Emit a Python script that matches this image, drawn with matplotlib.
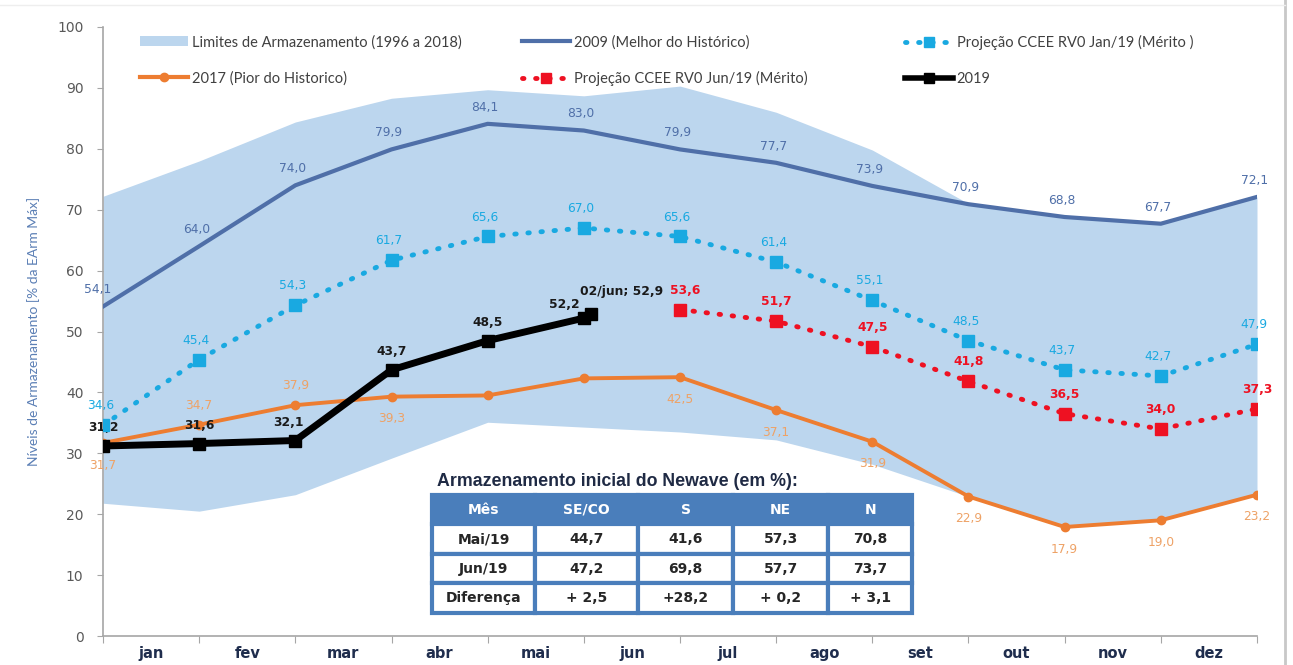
import numpy as np
import matplotlib
matplotlib.use("Agg")
import matplotlib.pyplot as plt
from matplotlib.patches import Patch
from matplotlib.lines import Line2D

# month boundaries (start of jan ... end of dez)
months = ["jan", "fev", "mar", "abr", "mai", "jun", "jul", "ago", "set", "out", "nov", "dez"]
x_full = np.arange(13)

band_upper = [72.2, 78.0, 84.4, 88.3, 89.7, 88.7, 90.3, 86.0, 79.8, 71.0, 68.8, 67.7, 72.1]
band_lower = [21.8, 20.5, 23.2, 29.2, 35.1, 34.3, 33.5, 32.2, 28.2, 22.9, 17.9, 19.0, 23.2]

best_2009 = [54.1, 64.0, 74.0, 79.9, 84.1, 83.0, 79.9, 77.7, 73.9, 70.9, 68.8, 67.7, 72.1]
worst_2017 = [31.7, 34.7, 37.9, 39.3, 39.5, 42.3, 42.5, 37.1, 31.9, 22.9, 17.9, 19.0, 23.2]
worst_2017_labeled = [True, True, True, True, False, False, True, True, True, True, True, True, True]
proj_jan = [34.6, 45.4, 54.3, 61.7, 65.6, 67.0, 65.6, 61.4, 55.1, 48.5, 43.7, 42.7, 47.9]
proj_jun_x = [6, 7, 8, 9, 10, 11, 12]
proj_jun = [53.6, 51.7, 47.5, 41.8, 36.5, 34.0, 37.3]
y2019_x = [0, 1, 2, 3, 4, 5, 5.07]
y2019 = [31.2, 31.6, 32.1, 43.7, 48.5, 52.2, 52.9]

table_cols = ["Mês", "SE/CO", "S", "NE", "N"]
table_rows = [
    ["Mai/19", "44,7", "41,6", "57,3", "70,8"],
    ["Jun/19", "47,2", "69,8", "57,7", "73,7"],
    ["Diferença", "+ 2,5", "+28,2", "+ 0,2", "+ 3,1"],
]

C_BAND = "#bcd6ee"
C_2009 = "#4f6fa8"
C_2017 = "#ed7d31"
C_JAN = "#19a9e1"
C_JUN = "#ee1122"
C_2019 = "#000000"


def fmt(v):
    return f"{v:.1f}".replace(".", ",")


fig = plt.figure(figsize=(12.93, 6.65), dpi=100)
ax = fig.add_axes([103 / 1293, 29 / 665, 1154 / 1293, 609 / 665])

ax.fill_between(x_full, band_lower, band_upper, color=C_BAND, lw=0, zorder=1)
ax.plot(x_full, best_2009, color=C_2009, lw=3, zorder=3)
ax.plot(x_full, worst_2017, color=C_2017, lw=2.8, marker="o", ms=6, zorder=3)
ax.plot(x_full, proj_jan, color=C_JAN, lw=3.5, ls=(0, (0.3, 2.4)), dash_capstyle="round",
        marker="s", ms=8, zorder=4)
ax.plot(proj_jun_x, proj_jun, color=C_JUN, lw=3.5, ls=(0, (0.3, 2.4)), dash_capstyle="round",
        marker="s", ms=8, zorder=4)
ax.plot(y2019_x, y2019, color=C_2019, lw=5, marker="s", ms=8, zorder=5)

lab_font = dict(fontsize=8.8, family="DejaVu Sans", ha="center", va="center")

for i, v in enumerate(best_2009):
    ax.annotate(fmt(v), (x_full[i], v), xytext=(-4 if i == 0 else -2, 12),
                textcoords="offset points", color=C_2009, **lab_font)

for i, v in enumerate(proj_jan):
    ax.annotate(fmt(v), (x_full[i], v), xytext=(-2, 14),
                textcoords="offset points", color=C_JAN, **lab_font)

for i, v in enumerate(proj_jun):
    ax.annotate(fmt(v), (proj_jun_x[i], v), xytext=(4 if i == 0 else 0, 14),
                textcoords="offset points", color=C_JUN, fontweight="bold", **lab_font)

orange_off = {1: (0, 14), 2: (0, 14)}
for i, v in enumerate(worst_2017):
    if not worst_2017_labeled[i]:
        continue
    off = orange_off.get(i, (0, -16))
    ax.annotate(fmt(v), (x_full[i], v), xytext=off,
                textcoords="offset points", color="#eea266", **lab_font)

black_off = {2: (-5, 13), 5: (-14, 10)}
for i, v in enumerate(y2019[:-1]):
    off = black_off.get(i, (0, 13))
    ax.annotate(fmt(v), (y2019_x[i], v), xytext=off,
                textcoords="offset points", color="#1a1a1a", fontweight="bold", **lab_font)
ax.annotate("02/jun; " + fmt(y2019[-1]), (y2019_x[-1], y2019[-1]), xytext=(22, 16),
            textcoords="offset points", color="#1a1a1a", fontweight="bold", **lab_font)

# axes styling
ax.set_xlim(0, 12)
ax.set_ylim(0, 100)
ax.set_yticks(np.arange(0, 101, 10))
ax.set_xticks(x_full)
ax.set_xticklabels([])
ax.set_xticks(np.arange(12) + 0.5, minor=True)
ax.set_xticklabels(months, minor=True, fontsize=10.5, fontweight="bold", color="#1f2d4d",
                   family="DejaVu Sans")
ax.tick_params(axis="x", which="minor", length=0, pad=7)
ax.tick_params(axis="x", which="major", length=5, color="#a6a6a6", direction="out")
ax.tick_params(axis="y", length=4, color="#a6a6a6", labelsize=10, labelcolor="#595959", pad=10)
for lab in ax.get_yticklabels():
    lab.set_family("DejaVu Sans")
for s in ["top", "right"]:
    ax.spines[s].set_visible(False)
for s in ["left", "bottom"]:
    ax.spines[s].set_color("#a6a6a6")
    ax.spines[s].set_linewidth(1.2)
ax.set_ylabel("Níveis de Armazenamento [% da EArm Máx]", fontsize=10, color="#5b7fb5",
              family="Lato", labelpad=12)

# legends, one per column
leg_kw = dict(loc="upper left", frameon=False, borderpad=0, borderaxespad=0,
              handlelength=3.3, handletextpad=0.25, labelspacing=1.5,
              prop={"family": "Lato", "size": 10.5}, labelcolor="#404040")
h_band = Patch(facecolor=C_BAND, edgecolor="none")
h_2009 = Line2D([], [], color=C_2009, lw=3)
h_2017 = Line2D([], [], color=C_2017, lw=3, marker="o", ms=6)
h_jan = Line2D([], [], color=C_JAN, lw=3.5, ls=(0, (0.3, 2.4)), dash_capstyle="round", marker="s", ms=7)
h_jun = Line2D([], [], color=C_JUN, lw=3.5, ls=(0, (0.3, 2.4)), dash_capstyle="round", marker="s", ms=7)
h_2019 = Line2D([], [], color=C_2019, lw=4, marker="s", ms=7)

l1 = ax.legend([h_band, h_2017], ["Limites de Armazenamento (1996 a 2018)", "2017 (Pior do Historico)"],
               bbox_to_anchor=(0.032, 0.987), **leg_kw)
ax.add_artist(l1)
l2 = ax.legend([h_2009, h_jun], ["2009 (Melhor do Histórico)", "Projeção CCEE RV0 Jun/19 (Mérito)"],
               bbox_to_anchor=(0.363, 0.987), **leg_kw)
ax.add_artist(l2)
ax.legend([h_jan, h_2019], ["Projeção CCEE RV0 Jan/19 (Mérito )", "2019"],
          bbox_to_anchor=(0.695, 0.987), **leg_kw)

# table of initial storage
ax.text(0.2894, 0.2545, "Armazenamento inicial do Newave (em %):", transform=ax.transAxes,
        fontsize=12.8, fontweight="bold", color="#1f2a44", family="Liberation Sans",
        ha="left", va="center")
col_w = np.array([103, 103, 95, 95, 84], dtype=float)
tbl = ax.table(cellText=table_rows, colLabels=table_cols, cellLoc="center",
               colWidths=list(col_w / col_w.sum()),
               bbox=[0.2851, 0.0378, 0.416, 0.194])
tbl.auto_set_font_size(False)
for (r, c), cell in tbl.get_celld().items():
    cell.set_edgecolor("#4a7ebb")
    cell.set_linewidth(3)
    txt = cell.get_text()
    txt.set_fontsize(10)
    txt.set_fontweight("bold")
    txt.set_family("DejaVu Sans")
    if r == 0:
        cell.set_facecolor("#4a7ebb")
        txt.set_color("white")
    else:
        cell.set_facecolor("white")
        txt.set_color("#262626")
tbl.set_zorder(6)

# faint frame of the original slide
fig.add_artist(Line2D([1285 / 1293, 1285 / 1293], [0, 1], color="#c8c8c8", lw=2))
fig.add_artist(Line2D([0, 1285 / 1293], [1 - 5 / 665, 1 - 5 / 665], color="#eeeeee", lw=1))

fig.savefig("out.png", dpi=100)
